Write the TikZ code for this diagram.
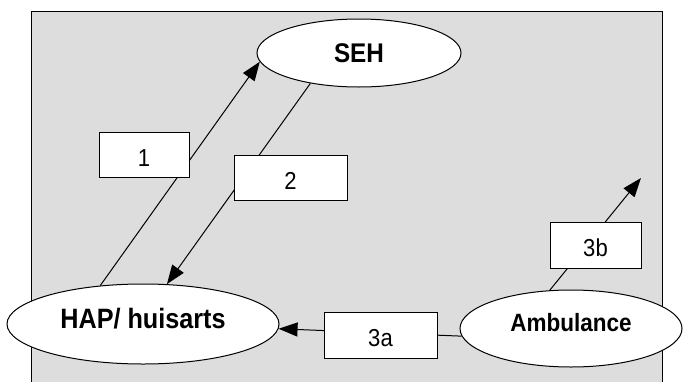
\documentclass[tikz,border=0pt]{standalone}
\usepackage{fontspec}
\setmainfont[FakeStretch=0.9]{Liberation Sans}
\usetikzlibrary{shapes,arrows.meta}
\definecolor{vlak}{RGB}{221,221,221}

\begin{document}
\begin{tikzpicture}[x=1pt,y=-1pt,
	post/.style={ellipse, draw=black, line width=1pt, fill=white, inner sep=0pt},
	nummer/.style={rectangle, draw=black, line width=1pt, fill=white, minimum height=45pt, inner sep=0pt, text height=23pt, text depth=0pt, font=\fontsize{24.5}{28}\selectfont},
	pijl/.style={line width=1pt, -{Triangle[length=19pt,width=14pt]}}]
	
	\clip (0,0) rectangle (683,381);
	\draw [line width=1pt, fill=vlak] (31,11) rectangle (662,400);
	
	\node [post, minimum width=204pt, minimum height=68pt, font=\fontsize{27}{30}\selectfont\bfseries] (seh) at (359,53) {SEH};
	\node [post, minimum width=272pt, minimum height=80pt, text depth=12pt, font=\fontsize{28}{32}\selectfont\bfseries] (hap) at (143,324) {HAP/ huisarts};
	\node [post, minimum width=222pt, minimum height=77pt, text depth=13pt, font=\fontsize{25}{29}\selectfont\bfseries] (amb) at (571,328.5) {Ambulance};
	\coordinate (weg) at (641,178);
	
	\draw [pijl] (hap.138) -- (seh.185);
	\draw [pijl] (seh.212) -- (hap.59);
	\draw [pijl] (amb.184) -- (hap.358);
	\draw [pijl] (amb.119) -- (weg);
	
	\node [nummer, minimum width=90pt] (een) at (144,154.5) {1};
	\node [nummer, minimum width=113pt] (twee) at (290.5,177.5) {2};
	\node [nummer, minimum width=113pt, minimum height=46pt] (driea) at (380.5,335) {3a};
	\node [nummer, minimum width=91pt, minimum height=46pt] (drieb) at (595.5,245) {3b};
	
\end{tikzpicture}
\end{document}
